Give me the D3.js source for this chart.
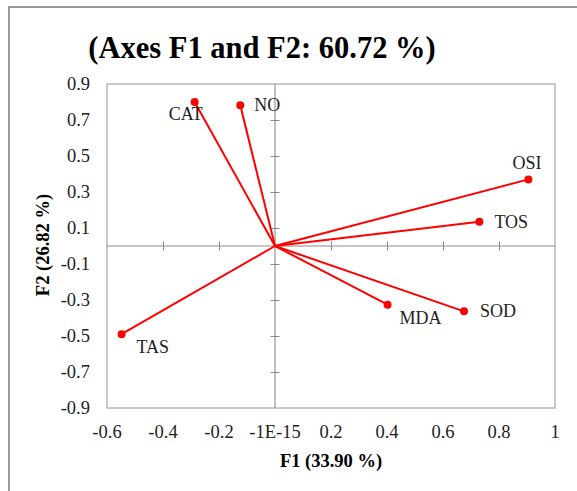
<!DOCTYPE html>
<html>
<head>
<meta charset="utf-8">
<script src="https://cdn.jsdelivr.net/npm/d3@7"></script>
<style>
  html, body { margin: 0; padding: 0; background: #fff; }
  svg { display: block; }
</style>
</head>
<body>
<svg id="chart" width="577" height="491"></svg>
<script>
// Variable loadings on the first two factors
const variables = ["CAT", "NO", "OSI", "TOS", "TAS", "MDA", "SOD"];
const f1Values = [-0.287, -0.124, 0.905, 0.730, -0.548, 0.402, 0.675];
const f2Values = [0.800, 0.782, 0.370, 0.135, -0.490, -0.326, -0.363];

// Axis tick values and their printed labels
const xTicks = [-0.6, -0.4, -0.2, 0, 0.2, 0.4, 0.6, 0.8, 1];
const xTickLabels = ["-0.6", "-0.4", "-0.2", "-1E-15", "0.2", "0.4", "0.6", "0.8", "1"];
const yTicks = [0.9, 0.7, 0.5, 0.3, 0.1, -0.1, -0.3, -0.5, -0.7, -0.9];
const yTickLabels = ["0.9", "0.7", "0.5", "0.3", "0.1", "-0.1", "-0.3", "-0.5", "-0.7", "-0.9"];

// Label placement relative to each point (dx, dy in px)
const labelOffsets = {
  CAT: [-26, 18], NO: [14, 6], OSI: [-16, -10], TOS: [15, 6],
  TAS: [15, 19], MDA: [12, 19], SOD: [16, 6]
};

const title = "(Axes F1 and F2: 60.72 %)";
const xTitle = "F1 (33.90 %)";
const yTitle = "F2 (26.82 %)";

const serif = '"Liberation Serif"';

const data = variables.map((v, i) => ({ name: v, f1: f1Values[i], f2: f2Values[i] }));

const svg = d3.select("#chart");
const plot = { left: 107, top: 84, right: 555, bottom: 408 };

const x = d3.scaleLinear().domain([-0.6, 1]).range([plot.left, plot.right]);
const y = d3.scaleLinear().domain([-0.9, 0.9]).range([plot.bottom, plot.top]);

// Outer frame
svg.append("path")
  .attr("d", `M9,491 L9,7 L577,7`)
  .attr("fill", "none")
  .attr("stroke", "#9a9a9a")
  .attr("stroke-width", 2);

// Title
svg.append("text")
  .attr("x", 262).attr("y", 58)
  .attr("text-anchor", "middle")
  .style("font-family", serif)
  .style("font-weight", "bold")
  .style("font-size", "30.5px")
  .attr("fill", "#000")
  .text(title);

// Plot area border
svg.append("rect")
  .attr("x", plot.left).attr("y", plot.top)
  .attr("width", plot.right - plot.left).attr("height", plot.bottom - plot.top)
  .attr("fill", "none").attr("stroke", "#a6a6a6").attr("stroke-width", 1.2);

// Axes crossing at the origin, with cross-style ticks
const xAxis = d3.axisBottom(x).tickValues(xTicks.filter(t => t !== -0.6 && t !== 1 && t !== 0))
  .tickSize(9).tickFormat("");
const gx = svg.append("g").attr("transform", `translate(0,${y(0) - 4.5})`).call(xAxis);
gx.select(".domain").remove();
gx.selectAll(".tick line").attr("stroke", "#8c8c8c").attr("stroke-width", 1.1);
svg.append("line")
  .attr("x1", plot.left).attr("x2", plot.right)
  .attr("y1", y(0)).attr("y2", y(0))
  .attr("stroke", "#8c8c8c").attr("stroke-width", 1.1);

const yAxis = d3.axisLeft(y).tickValues(yTicks.filter(t => Math.abs(t) !== 0.9))
  .tickSize(9).tickFormat("");
const gy = svg.append("g").attr("transform", `translate(${x(0) + 4.5},0)`).call(yAxis);
gy.select(".domain").remove();
gy.selectAll(".tick line").attr("stroke", "#8c8c8c").attr("stroke-width", 1.1);
svg.append("line")
  .attr("x1", x(0)).attr("x2", x(0))
  .attr("y1", plot.top).attr("y2", plot.bottom)
  .attr("stroke", "#8c8c8c").attr("stroke-width", 1.1);

// Tick labels along the outer edges
svg.append("g").selectAll("text").data(xTicks).join("text")
  .attr("x", d => x(d)).attr("y", 438)
  .attr("text-anchor", "middle")
  .style("font-family", serif).style("font-size", "18.5px")
  .attr("fill", "#222")
  .text((d, i) => xTickLabels[i]);

svg.append("g").selectAll("text").data(yTicks).join("text")
  .attr("x", 90).attr("y", d => y(d)).attr("dy", "0.34em")
  .attr("text-anchor", "end")
  .style("font-family", serif).style("font-size", "18.5px")
  .attr("fill", "#222")
  .text((d, i) => yTickLabels[i]);

// Axis titles
svg.append("text")
  .attr("x", 331).attr("y", 467)
  .attr("text-anchor", "middle")
  .style("font-family", serif).style("font-weight", "bold").style("font-size", "18.5px")
  .text(xTitle);

svg.append("text")
  .attr("transform", "translate(49,245) rotate(-90)")
  .attr("text-anchor", "middle")
  .style("font-family", serif).style("font-weight", "bold").style("font-size", "18.5px")
  .text(yTitle);

// Loading vectors
const g = svg.append("g");
g.selectAll("line.vec").data(data).join("line")
  .attr("class", "vec")
  .attr("x1", x(0)).attr("y1", y(0))
  .attr("x2", d => x(d.f1)).attr("y2", d => y(d.f2))
  .attr("stroke", "#ff0000").attr("stroke-width", 2);

g.selectAll("circle").data(data).join("circle")
  .attr("cx", d => x(d.f1)).attr("cy", d => y(d.f2))
  .attr("r", 4).attr("fill", "#ff0000");

g.selectAll("text").data(data).join("text")
  .attr("x", d => x(d.f1) + labelOffsets[d.name][0])
  .attr("y", d => y(d.f2) + labelOffsets[d.name][1])
  .style("font-family", serif).style("font-size", "18px")
  .attr("fill", "#222")
  .text(d => d.name);
</script>
</body>
</html>
